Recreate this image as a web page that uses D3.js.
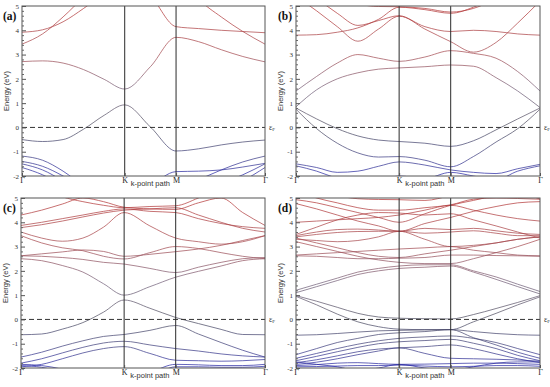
<!DOCTYPE html>
<html><head><meta charset="utf-8">
<script src="https://cdn.jsdelivr.net/npm/d3@7"></script>
<style>body{margin:0;background:#fff}svg{display:block}</style>
</head><body>
<svg id="chart" width="550" height="387"></svg>
<script>
// ---------- data ----------
const kGrid = [0, 0.2, 0.4, 0.6, 0.8, 1, 1.25, 1.5, 1.72, 1.94, 2.15, 2.366];
const kTicks = [0, 1, 1.5, 2.366];
const kLabels = ["Γ", "K", "M", "Γ"];
const energyTicks = [5, 4, 3, 2, 1, 0, -1, -2];
const panelLabels = ["(a)", "(b)", "(c)", "(d)"];

const bandsA = [
  [-0.5, -0.58, -0.5, -0.07, 0.5, 0.93, 0.02, -0.97, -0.88, -0.72, -0.6, -0.52],
  [2.71, 2.74, 2.65, 2.38, 1.98, 1.58, 2.5, 3.71, 3.53, 3.2, 2.92, 2.7],
  [3.43, 3.85, 4.55, 5.35, 6.0, 6.4, 5.45, 4.15, 4.07, 4.0, 3.95, 3.9],
  [3.92, 4.02, 4.35, 4.9, 5.5, 6.0, 6.4, 6.6, 5.3, 4.55, 3.95, 3.43],
  [-1.18, -1.35, -1.8, -2.4, -2.8, -3.0, -2.8, -2.5, -2.15, -1.75, -1.42, -1.18],
  [-1.4, -1.6, -2.0, -2.5, -2.8, -3.0, -2.4, -1.82, -1.8, -1.75, -1.63, -1.48],
  [-1.5, -1.75, -2.2, -2.7, -3.0, -3.2, -3.0, -2.8, -2.6, -2.3, -1.95, -1.5],
  [-1.65, -1.95, -2.4, -2.9, -3.2, -3.4, -3.2, -3.0, -2.8, -2.6, -2.2, -1.65]
];

const bandsB = [
  [0.8, 0.35, -0.05, -0.35, -0.52, -0.58, -0.65, -0.78, -0.55, -0.1, 0.35, 0.8],
  [0.75, -0.05, -0.65, -1.05, -1.22, -1.2, -1.35, -1.62, -1.2, -0.6, -0.05, 0.75],
  [-1.5, -1.65, -1.85, -1.8, -1.6, -1.42, -1.55, -1.75, -1.85, -1.9, -1.7, -1.52],
  [-1.58, -1.8, -2.1, -2.3, -2.2, -2.0, -2.1, -1.85, -2.0, -2.15, -1.8, -1.58],
  [0.85, 1.55, 2.0, 2.25, 2.4, 2.45, 2.5, 2.57, 2.52, 2.05, 1.5, 0.82],
  [1.5, 2.1, 2.65, 3.0, 2.85, 2.72, 2.9, 3.16, 3.05, 2.85, 2.3, 1.5],
  [3.8, 3.82, 3.92, 4.1, 4.45, 4.95, 4.85, 4.7, 4.95, 5.4, 5.9, 6.4],
  [5.4, 4.8, 4.15, 3.55, 4.05, 4.58, 4.15, 3.95, 4.0, 3.95, 3.85, 3.8],
  [5.8, 5.3, 4.7, 4.2, 4.4, 4.6, 4.05, 3.53, 3.1, 3.5, 4.3, 5.2],
  [6.2, 5.9, 5.5, 5.1, 4.98, 4.97, 4.9, 4.75, 4.9, 5.3, 5.8, 6.3]
];

const bandsC = [
  [-0.63, -0.6, -0.4, -0.13, 0.3, 0.8, 0.46, 0.08, -0.17, -0.41, -0.62, -0.63],
  [-1.55, -1.35, -1.1, -0.88, -0.7, -0.62, -0.45, -0.25, -0.6, -0.95, -1.27, -1.55],
  [-1.8, -1.62, -1.38, -1.15, -0.97, -0.9, -1.05, -1.2, -1.3, -1.42, -1.5, -1.55],
  [-1.95, -1.85, -1.62, -1.38, -1.2, -1.12, -1.4, -1.68, -1.7, -1.72, -1.7, -1.65],
  [-1.85, -1.9, -2.05, -2.3, -2.5, -2.6, -2.2, -1.85, -1.87, -1.9, -1.9, -1.85],
  [-1.9, -1.97, -2.2, -2.5, -2.7, -2.8, -2.4, -1.95, -1.95, -1.97, -1.97, -1.93],
  [2.5, 2.42, 2.22, 1.95, 1.47, 1.0, 1.35, 1.74, 1.98, 2.2, 2.42, 2.5],
  [2.62, 2.6, 2.55, 2.47, 2.35, 2.28, 2.1, 1.93, 2.15, 2.35, 2.5, 2.55],
  [3.45, 3.15, 2.95, 2.83, 2.6, 2.49, 2.75, 3.0, 2.92, 2.75, 2.6, 2.5],
  [2.62, 2.7, 2.78, 2.86, 2.8, 2.6, 2.68, 2.79, 2.9, 3.05, 3.25, 3.45],
  [3.6, 3.35, 3.22, 3.35, 3.8, 4.4, 3.85, 3.35, 3.2, 3.1, 3.2, 3.45],
  [3.78, 3.9, 4.05, 4.22, 4.38, 4.5, 4.55, 4.6, 4.3, 4.0, 3.75, 3.6],
  [3.87, 4.0, 4.15, 4.3, 4.45, 4.55, 4.45, 4.4, 4.15, 3.95, 3.82, 3.75],
  [4.3, 4.5, 4.75, 5.0, 4.85, 4.62, 4.55, 4.53, 4.8, 5.0, 4.4, 3.87],
  [5.8, 5.4, 5.05, 4.85, 4.7, 4.6, 4.65, 4.68, 5.0, 5.4, 5.8, 6.0]
];

const bandsD = [
  [0.98, 0.75, 0.5, 0.25, 0.1, 0.05, 0.03, 0.02, 0.2, 0.45, 0.7, 0.98],
  [0.95, 0.6, 0.22, -0.1, -0.3, -0.4, -0.42, -0.42, -0.1, 0.25, 0.6, 0.93],
  [-0.65, -0.63, -0.58, -0.52, -0.47, -0.45, -0.43, -0.42, -0.5, -0.58, -0.63, -0.65],
  [-1.45, -1.2, -0.95, -0.78, -0.62, -0.55, -0.5, -0.42, -0.75, -1.05, -1.35, -1.6],
  [-1.6, -1.4, -1.2, -1.02, -0.88, -0.78, -0.72, -0.68, -0.78, -0.95, -1.2, -1.45],
  [-1.7, -1.52, -1.33, -1.15, -1.0, -0.92, -0.87, -0.82, -0.98, -1.2, -1.48, -1.7],
  [-1.78, -1.66, -1.5, -1.33, -1.22, -1.17, -1.12, -1.05, -1.2, -1.42, -1.62, -1.78],
  [-1.85, -1.76, -1.62, -1.45, -1.3, -1.17, -1.4, -1.6, -1.62, -1.64, -1.67, -1.72],
  [-1.9, -1.86, -1.8, -1.78, -1.82, -1.85, -1.84, -1.82, -1.8, -1.8, -1.82, -1.85],
  [-1.95, -1.94, -1.92, -1.9, -1.9, -1.88, -1.92, -1.95, -1.93, -1.9, -1.9, -1.93],
  [-1.75, -1.85, -1.95, -2.1, -2.0, -1.85, -2.0, -2.1, -1.95, -1.8, -1.75, -1.75],
  [1.1, 1.35, 1.6, 1.85, 2.0, 2.1, 2.15, 2.2, 1.95, 1.65, 1.35, 1.05],
  [1.2, 1.45, 1.7, 1.95, 2.1, 2.2, 2.25, 2.25, 2.0, 1.75, 1.45, 1.15],
  [2.62, 2.6, 2.55, 2.5, 2.5, 2.52, 2.55, 2.65, 2.65, 2.63, 2.62, 2.6],
  [2.65, 2.7, 2.75, 2.8, 2.85, 2.9, 2.95, 3.0, 2.85, 2.75, 2.65, 2.62],
  [3.2, 3.0, 2.8, 2.6, 2.45, 2.35, 2.3, 2.3, 2.5, 2.75, 3.0, 3.3],
  [3.35, 3.15, 2.95, 2.75, 2.6, 2.55, 2.7, 2.85, 3.0, 3.15, 3.3, 3.4],
  [3.4, 3.5, 3.58, 3.62, 3.63, 3.63, 3.55, 3.6, 3.65, 3.55, 3.45, 3.45],
  [3.45, 3.6, 3.7, 3.72, 3.68, 3.63, 3.75, 3.7, 3.75, 3.65, 3.55, 3.5],
  [3.5, 3.8, 4.1, 4.3, 4.4, 4.38, 4.3, 4.35, 4.1, 3.85, 3.6, 3.35],
  [4.0, 4.05, 4.1, 4.15, 4.2, 4.3, 4.5, 4.7, 4.5, 4.3, 4.15, 4.05],
  [4.77, 4.55, 4.3, 4.05, 3.85, 3.63, 3.95, 4.2, 4.45, 4.65, 4.8, 4.85],
  [4.93, 4.8, 4.6, 4.4, 4.2, 4.0, 4.35, 4.7, 4.9, 5.1, 5.2, 4.95],
  [5.3, 5.0, 4.8, 4.6, 4.5, 4.5, 4.6, 4.72, 4.95, 5.0, 4.98, 4.95],
  [5.5, 5.3, 5.1, 4.97, 4.94, 4.93, 4.9, 5.1, 5.3, 5.4, 5.5, 5.6],
  [3.3, 3.25, 3.2, 3.25, 3.4, 3.63, 3.3, 3.0, 3.05, 3.15, 3.3, 3.4]
];

// ---------- layout / style ----------
const panels = [
  { id: "a", bands: bandsA, frame: [22, 265, 6, 176], lx: 3 },
  { id: "b", bands: bandsB, frame: [296, 540, 6, 176], lx: 278 },
  { id: "c", bands: bandsC, frame: [21, 265, 198, 368], lx: 3 },
  { id: "d", bands: bandsD, frame: [296, 540, 198, 368], lx: 278 }
];
const colorStops = [[5, "#b43434"], [3, "#a44a50"], [1.5, "#72607a"], [0, "#4a4a5c"], [-1, "#404078"], [-2, "#2424a8"]];

const svg = d3.select("#chart");
const defs = svg.append("defs");
svg.append("rect").attr("width", 550).attr("height", 387).attr("fill", "#fff");

panels.forEach((p, pi) => {
  const [x0, x1, y0, y1] = p.frame;
  const x = d3.scaleLinear().domain([0, kTicks[kTicks.length - 1]]).range([x0, x1]);
  const y = d3.scaleLinear().domain([-2, 5]).range([y1, y0]);
  const g = svg.append("g");

  const grad = defs.append("linearGradient").attr("id", "grad-" + p.id)
    .attr("gradientUnits", "userSpaceOnUse")
    .attr("x1", 0).attr("x2", 0).attr("y1", y(5)).attr("y2", y(-2));
  colorStops.forEach(([e, c]) => grad.append("stop").attr("offset", (5 - e) / 7).attr("stop-color", c));

  defs.append("clipPath").attr("id", "clip-" + p.id)
    .append("rect").attr("x", x0).attr("y", y0).attr("width", x1 - x0).attr("height", y1 - y0);

  const line = d3.line().x((d, i) => x(kGrid[i])).y(d => y(d)).curve(d3.curveMonotoneX);
  g.append("g").attr("clip-path", `url(#clip-${p.id})`)
    .selectAll("path").data(p.bands).join("path")
    .attr("d", line).attr("fill", "none")
    .attr("stroke", `url(#grad-${p.id})`).attr("stroke-width", 0.85).attr("stroke-opacity", 0.85);

  // high-symmetry verticals
  g.selectAll("line.sym").data(kTicks.slice(1, 3)).join("line")
    .attr("x1", d => x(d)).attr("x2", d => x(d)).attr("y1", y0).attr("y2", y1)
    .attr("stroke", "#2a2a2a").attr("stroke-width", 1);

  // Fermi level
  g.append("line").attr("x1", x0).attr("x2", x1).attr("y1", y(0)).attr("y2", y(0))
    .attr("stroke", "#333").attr("stroke-width", 1).attr("stroke-dasharray", "5,3");
  const ef = g.append("text").attr("x", x1 + 4).attr("y", y(0) + 2.5)
    .attr("font-family", "Liberation Serif, serif").attr("font-size", 8).attr("fill", "#333").text("ε");
  ef.append("tspan").attr("font-size", 5).attr("dy", 1.5).text("F");

  // frame
  g.append("rect").attr("x", x0).attr("y", y0).attr("width", x1 - x0).attr("height", y1 - y0)
    .attr("fill", "none").attr("stroke", "#555").attr("stroke-width", 1);

  // y axis
  const minor = d3.range(-2, 5.001, 0.2).filter(v => Math.abs(v - Math.round(v)) > 1e-6);
  const ax = g.append("g").attr("transform", `translate(${x0},0)`)
    .call(d3.axisLeft(y).tickValues(energyTicks).tickSize(-4).tickPadding(3).tickFormat(d => String(d)));
  ax.select(".domain").remove();
  ax.selectAll("text").attr("font-family", "Liberation Serif, serif").attr("font-size", 7).attr("fill", "#333");
  ax.selectAll("line").attr("stroke", "#555");
  const axm = g.append("g").attr("transform", `translate(${x0},0)`)
    .call(d3.axisLeft(y).tickValues(minor).tickSize(-2).tickFormat(""));
  axm.select(".domain").remove();
  axm.selectAll("line").attr("stroke", "#666");

  // x axis
  const bx = g.append("g").attr("transform", `translate(0,${y1})`)
    .call(d3.axisBottom(x).tickValues(kTicks).tickSize(-3).tickPadding(1.5).tickFormat((d, i) => kLabels[i]));
  bx.select(".domain").remove();
  bx.selectAll("text").attr("font-family", "Liberation Serif, serif").attr("font-size", 8).attr("fill", "#222");
  bx.selectAll("line").attr("stroke", "#555");

  g.append("text").attr("x", (x(kTicks[1]) + x(kTicks[2])) / 2).attr("y", y1 + 10)
    .attr("text-anchor", "middle").attr("font-family", "Liberation Sans, Arial, sans-serif")
    .attr("font-size", 7.5).attr("fill", "#333").text("k-point path");

  g.append("text").attr("transform", `translate(${x0 - 13.5},${(y0 + y1) / 2}) rotate(-90)`)
    .attr("text-anchor", "middle").attr("font-family", "Liberation Sans, Arial, sans-serif")
    .attr("font-size", 7.5).attr("fill", "#333").text("Energy (eV)");

  g.append("text").attr("x", p.lx).attr("y", y0 + 14)
    .attr("font-family", "Liberation Serif, serif").attr("font-weight", "bold")
    .attr("font-size", 11.5).attr("fill", "#111").text(panelLabels[pi]);
});
</script>
</body></html>
